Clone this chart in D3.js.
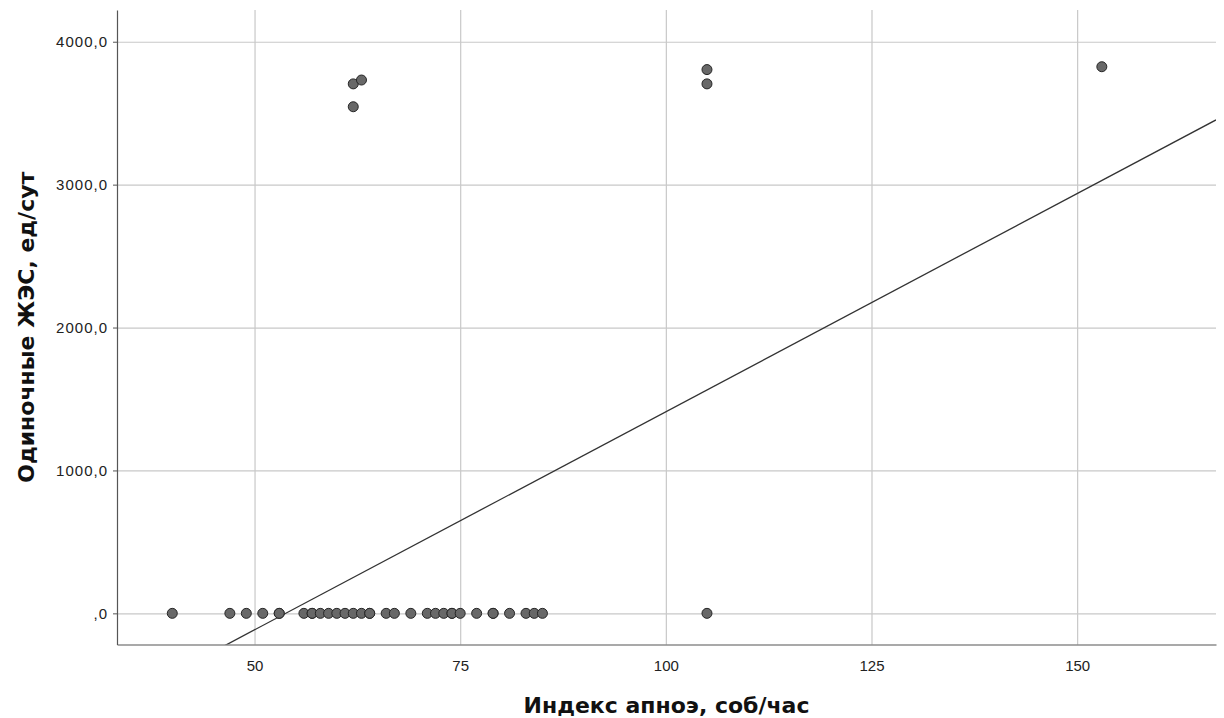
<!DOCTYPE html>
<html>
<head>
  <meta charset="utf-8">
  <style type="text/css">
  body {
    margin: 0;
    background: #fff;
    font-family: "DejaVu Sans", sans-serif;
  }
  .axis text {
    font-size: 15px;
    fill: #222;
  }
  .y.axis text {
    letter-spacing: 1px;
  }
  .axis path {
    stroke: #555;
    stroke-width: 1.2px;
  }
  .axis line {
    stroke: #555;
  }
  .grid line {
    stroke: #c8c8c8;
    stroke-width: 1.2px;
  }
  .grid path {
    display: none;
  }
  .title {
    font-size: 22px;
    font-weight: bold;
    fill: #111;
  }
  .dot {
    fill: #686868;
    stroke: #262626;
    stroke-width: 1px;
  }
  .fit {
    stroke: #333;
    stroke-width: 1.3px;
    fill: none;
  }
  </style>
</head>
<body>
  <script src="https://d3js.org/d3.v7.min.js"></script>
  <script>
    // apnea index (events/hour) and single PVCs per day
    var apneaIndex = [40, 47, 49, 51, 53, 53, 56, 57, 57, 58, 59, 60, 61, 62, 63, 64, 64,
                      66, 67, 69, 71, 72, 73, 74, 74, 75, 77, 79, 79, 81, 83, 84, 85, 105,
                      62, 63, 62, 105, 105, 153];
    var singlePVC = [0, 0, 0, 0, 0, 0, 0, 0, 0, 0, 0, 0, 0, 0, 0, 0, 0,
                     0, 0, 0, 0, 0, 0, 0, 0, 0, 0, 0, 0, 0, 0, 0, 0, 0,
                     3705, 3732, 3545, 3805, 3705, 3825];
    var xTicks = [50, 75, 100, 125, 150];
    var yTicks = [0, 1000, 2000, 3000, 4000];
    // fitted line (as drawn in the source chart)
    var fitIntercept = -1642;
    var fitSlope = 30.53;

    var xTitle = "Индекс апноэ, соб/час";
    var yTitle = "Одиночные ЖЭС, ед/сут";

    var margin = {top: 10, right: 8, bottom: 73.5, left: 117};
    var width = 1224 - margin.left - margin.right,
        height = 718 - margin.top - margin.bottom;

    var x = d3.scaleLinear()
        .domain([33.28, 166.88])
        .range([0, width]);
    var y = d3.scaleLinear()
        .domain([-218, 4222])
        .range([height, 0]);

    var svg = d3.select("body").append("svg")
        .attr("width", 1224)
        .attr("height", 718)
      .append("g")
        .attr("transform", "translate(" + margin.left + "," + margin.top + ")");

    // grid
    svg.append("g")
        .attr("class", "grid")
        .attr("transform", "translate(0," + height + ")")
        .call(d3.axisBottom(x).tickValues(xTicks).tickSize(-height).tickFormat(""));
    svg.append("g")
        .attr("class", "grid")
        .call(d3.axisLeft(y).tickValues(yTicks).tickSize(-width).tickFormat(""));

    // axes
    svg.append("g")
        .attr("class", "x axis")
        .attr("transform", "translate(0," + height + ")")
        .call(d3.axisBottom(x).tickValues(xTicks).tickSize(0).tickSizeOuter(0).tickPadding(16));
    svg.append("g")
        .attr("class", "y axis")
        .call(d3.axisLeft(y).tickValues(yTicks).tickSize(4).tickSizeOuter(0).tickPadding(5)
          .tickFormat(function(d) { return d === 0 ? ",0" : d + ",0"; }));

    // fit line, clipped to plot area
    svg.append("clipPath").attr("id", "plot-clip")
      .append("rect").attr("width", width).attr("height", height);
    var xs = x.domain();
    svg.append("line")
        .attr("class", "fit")
        .attr("clip-path", "url(#plot-clip)")
        .attr("x1", x(xs[0])).attr("y1", y(fitIntercept + fitSlope * xs[0]))
        .attr("x2", x(xs[1])).attr("y2", y(fitIntercept + fitSlope * xs[1]));

    // points
    svg.selectAll(".dot")
        .data(d3.range(apneaIndex.length))
      .enter().append("circle")
        .attr("class", "dot")
        .attr("cx", function(i) { return x(apneaIndex[i]); })
        .attr("cy", function(i) { return y(singlePVC[i]); })
        .attr("r", 5);

    // titles
    svg.append("text")
        .attr("class", "title")
        .attr("text-anchor", "middle")
        .attr("x", width / 2)
        .attr("y", height + 68)
        .text(xTitle);
    svg.append("text")
        .attr("class", "title")
        .attr("text-anchor", "middle")
        .attr("transform", "translate(" + (34 - margin.left) + "," + (height / 2) + ") rotate(-90)")
        .text(yTitle);
  </script>
</body>
</html>
